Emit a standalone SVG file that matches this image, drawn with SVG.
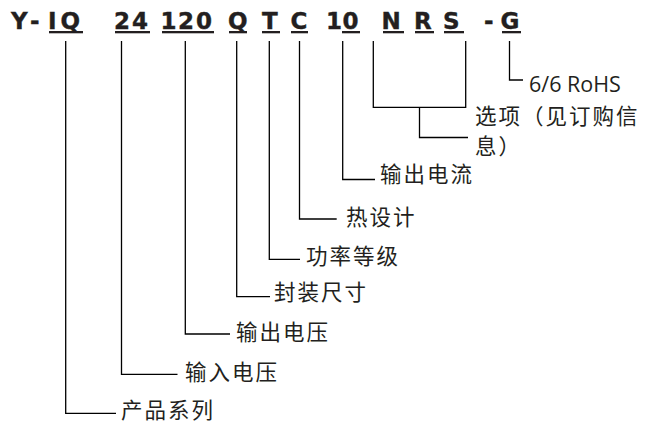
<svg xmlns="http://www.w3.org/2000/svg" width="645" height="423" viewBox="0 0 645 423">
<style>
.hd{font-family:"DejaVu Sans",sans-serif;font-weight:bold;font-size:23px;fill:#231f20;stroke:#231f20;stroke-width:0.4}
.lb{font-family:"Noto Sans CJK SC","Noto Sans",sans-serif;font-size:21.5px;letter-spacing:2px;fill:#231f20}
.en{font-family:"Open Sans","Noto Sans",sans-serif;font-size:21.5px;fill:#231f20}
.ul{fill:#231f20}
.cn path{fill:none;stroke:#000;stroke-width:1.3}
</style>
<rect width="645" height="423" fill="#fff"/>
<g id="code">
<text class="hd" y="29"><tspan x="11">Y</tspan><tspan x="30">-</tspan><tspan x="48">I</tspan><tspan x="60.5">Q</tspan><tspan x="114">2</tspan><tspan x="132">4</tspan><tspan x="160.5">1</tspan><tspan x="178">2</tspan><tspan x="196">0</tspan><tspan x="228">Q</tspan><tspan x="262">T</tspan><tspan x="290.5">C</tspan><tspan x="326">1</tspan><tspan x="342.5">0</tspan><tspan x="381.5">N</tspan><tspan x="414">R</tspan><tspan x="443">S</tspan><tspan x="484">-</tspan><tspan x="500.5">G</tspan></text>
<rect class="ul" x="49" y="31" width="34" height="2.3"/>
<rect class="ul" x="115" y="31" width="35" height="2.3"/>
<rect class="ul" x="162" y="31" width="52" height="2.3"/>
<rect class="ul" x="229" y="31" width="18" height="2.3"/>
<rect class="ul" x="262" y="31" width="18" height="2.3"/>
<rect class="ul" x="291" y="31" width="17" height="2.3"/>
<rect class="ul" x="342" y="31" width="18" height="2.3"/>
<rect class="ul" x="383" y="31" width="21" height="2.3"/>
<rect class="ul" x="415" y="31" width="19" height="2.3"/>
<rect class="ul" x="444" y="31" width="20" height="2.3"/>
<rect class="ul" x="502" y="31" width="19" height="2.3"/>
</g>
<g class="cn" id="connectors">
<path d="M65.7 41V413.3H116"/>
<path d="M121.5 41V374.3H177.5"/>
<path d="M185.3 41V334H230"/>
<path d="M236.7 41V296.7H270"/>
<path d="M269.3 41V259.3H300"/>
<path d="M299.5 41V219H336.7"/>
<path d="M342.7 41V179.5H375"/>
<path d="M373.3 41V107.3H465.7V41"/>
<path d="M419.5 107.3V137.5H468"/>
<path d="M509.5 41V80H523"/>
</g>
<g id="n-rohs"><text class="en" x="529" y="91.5">6/6 RoHS</text></g>
<g id="n-options"><text class="lb" x="475" y="123.5">选项（见订购信</text><text class="lb" x="475" y="153.5">息）</text></g>
<g id="n-current"><text class="lb" x="380" y="181.5">输出电流</text></g>
<g id="n-thermal"><text class="lb" x="346" y="225">热设计</text></g>
<g id="n-power"><text class="lb" x="306" y="263.5">功率等级</text></g>
<g id="n-package"><text class="lb" x="274" y="300">封装尺寸</text></g>
<g id="n-vout"><text class="lb" x="236" y="340">输出电压</text></g>
<g id="n-vin"><text class="lb" x="185" y="380">输入电压</text></g>
<g id="n-family"><text class="lb" x="121" y="418">产品系列</text></g>
</svg>
